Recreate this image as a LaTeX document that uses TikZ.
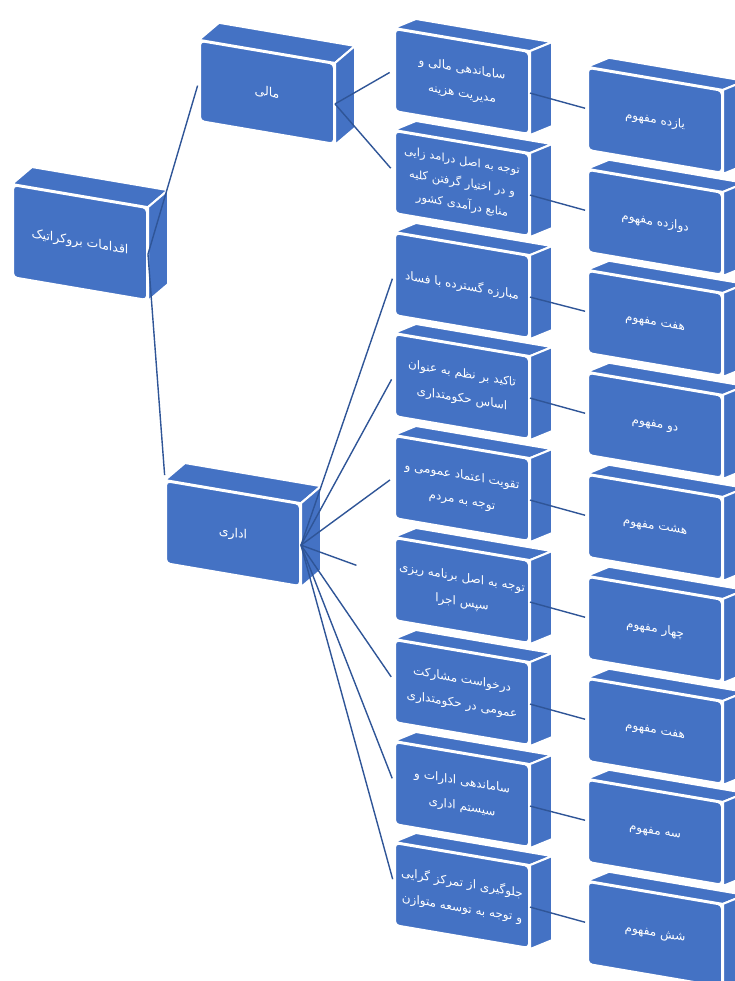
\documentclass[tikz,border=0pt]{standalone}
\usepackage{fontspec}
\usepackage{tikz}
\usetikzlibrary{backgrounds}
\TeXXeTstate=1
\newfontfamily\farsifont[Script=Arabic]{DejaVu Sans}
\definecolor{blockblue}{HTML}{4472C4}
\definecolor{lineblue}{HTML}{2F5597}
\newcommand{\fa}[1]{\beginR #1\endR}
% top and side faces of a block
\newcommand{\blockfaces}[3]{%
  \filldraw[face] (#1.north west) -- ([shift={(#2,#3)}]#1.north west)
    -- ([shift={(#2,#3)}]#1.north east) -- (#1.north east) -- cycle;
  \filldraw[face] (#1.north east) -- ([shift={(#2,#3)}]#1.north east)
    -- ([shift={(#2,#3)}]#1.south east) -- (#1.south east) -- cycle;
}
\tikzset{
  block/.style={draw=white, line width=2pt, fill=blockblue, rounded corners=4pt,
    text=white, align=center, minimum width=134pt, minimum height=82pt,
    inner sep=1pt, font=\farsifont\fontsize{12}{25}\selectfont},
  face/.style={fill=blockblue, draw=white, line width=2pt, line join=round},
  conn/.style={draw=lineblue, line width=1.4pt, shorten >=5pt},
}

\begin{document}
\begin{tikzpicture}[x=1pt,y=-1pt]
  \useasboundingbox (0,0) rectangle (734,981);

  \begin{scope}[yslant=-0.17, transform shape]
  %% left column
  \node[block, minimum height=92pt, font=\farsifont\fontsize{12.5}{25}\selectfont]
    (root) at (80,229) {\fa{اقدامات بروکراتیک}};
  \node[block, minimum height=80pt, font=\farsifont\fontsize{12.5}{25}\selectfont]
    (mali) at (267,47) {\fa{مالی}};
  \node[block, font=\farsifont\fontsize{12.5}{25}\selectfont]
    (edari) at (233,494) {\fa{اداری}};

  %% middle column
  \node[block] (m1) at (462,3) {\fa{ساماندهی مالی و}\\\fa{مدیریت هزینه}};
  \node[block, font=\farsifont\fontsize{11.5}{22}\selectfont] (m2) at (462,105)
    {\fa{توجه به اصل درامد زایی}\\\fa{و در اختیار گرفتن کلیه}\\\fa{منابع درآمدی کشور}};
  \node[block] (m3) at (462,207) {\fa{مبارزه گسترده با فساد}};
  \node[block] (m4) at (462,308) {\fa{تاکید بر نظم به عنوان}\\\fa{اساس حکومتداری}};
  \node[block] (m5) at (462,410) {\fa{تقویت اعتماد عمومی و}\\\fa{توجه به مردم}};
  \node[block] (m6) at (462,512) {\fa{توجه به اصل برنامه ریزی}\\\fa{سپس اجرا}};
  \node[block] (m7) at (462,614) {\fa{درخواست مشارکت}\\\fa{عمومی در حکومتداری}};
  \node[block] (m8) at (462,716) {\fa{ساماندهی ادارات و}\\\fa{سیستم اداری}};
  \node[block] (m9) at (462,817) {\fa{جلوگیری از تمرکز گرایی}\\\fa{و توجه به توسعه متوازن}};

  %% right column
  \node[block] (r1) at (655,9) {\fa{یازده مفهوم}};
  \node[block] (r2) at (655,111) {\fa{دوازده مفهوم}};
  \node[block] (r3) at (655,212) {\fa{هفت مفهوم}};
  \node[block] (r4) at (655,314) {\fa{دو مفهوم}};
  \node[block] (r5) at (655,416) {\fa{هشت مفهوم}};
  \node[block] (r6) at (655,518) {\fa{چهار مفهوم}};
  \node[block] (r7) at (655,620) {\fa{هفت مفهوم}};
  \node[block] (r8) at (655,721) {\fa{سه مفهوم}};
  \node[block] (r9) at (655,823) {\fa{شش مفهوم}};
  \end{scope}

  \begin{scope}[on background layer]
  \blockfaces{root}{20}{-17}
  \blockfaces{mali}{20}{-17}
  \blockfaces{edari}{20}{-17}
  \blockfaces{m1}{22}{-9} \blockfaces{m2}{22}{-9} \blockfaces{m3}{22}{-9}
  \blockfaces{m4}{22}{-9} \blockfaces{m5}{22}{-9} \blockfaces{m6}{22}{-9}
  \blockfaces{m7}{22}{-9} \blockfaces{m8}{22}{-9} \blockfaces{m9}{22}{-9}
  \blockfaces{r1}{22}{-9} \blockfaces{r2}{22}{-9} \blockfaces{r3}{22}{-9}
  \blockfaces{r4}{22}{-9} \blockfaces{r5}{22}{-9} \blockfaces{r6}{22}{-9}
  \blockfaces{r7}{22}{-9} \blockfaces{r8}{22}{-9} \blockfaces{r9}{22}{-9}
  \end{scope}

  %% root to branches
  \draw[conn] (root.east) -- (mali.west);
  \draw[conn] (root.east) -- (edari.north west);

  %% branches to themes
  \draw[conn] (mali.east) -- (m1.west);
  \draw[conn] (mali.east) -- (m2.west);
  \draw[conn] (edari.east) -- (m3.west);
  \draw[conn] (edari.east) -- (m4.west);
  \draw[conn] (edari.east) -- (m5.west);
  \draw[conn, shorten >=40pt] (edari.east) -- (m6.west);
  \draw[conn] (edari.east) -- (m7.west);
  \draw[conn] (edari.east) -- (m8.west);
  \draw[conn] (edari.east) -- (m9.west);

  %% themes to concept counts
  \draw[conn, shorten >=2pt] (m1.east) -- (r1.west);
  \draw[conn, shorten >=2pt] (m2.east) -- (r2.west);
  \draw[conn, shorten >=2pt] (m3.east) -- (r3.west);
  \draw[conn, shorten >=2pt] (m4.east) -- (r4.west);
  \draw[conn, shorten >=2pt] (m5.east) -- (r5.west);
  \draw[conn, shorten >=2pt] (m6.east) -- (r6.west);
  \draw[conn, shorten >=2pt] (m7.east) -- (r7.west);
  \draw[conn, shorten >=2pt] (m8.east) -- (r8.west);
  \draw[conn, shorten >=2pt] (m9.east) -- (r9.west);
\end{tikzpicture}
\end{document}
